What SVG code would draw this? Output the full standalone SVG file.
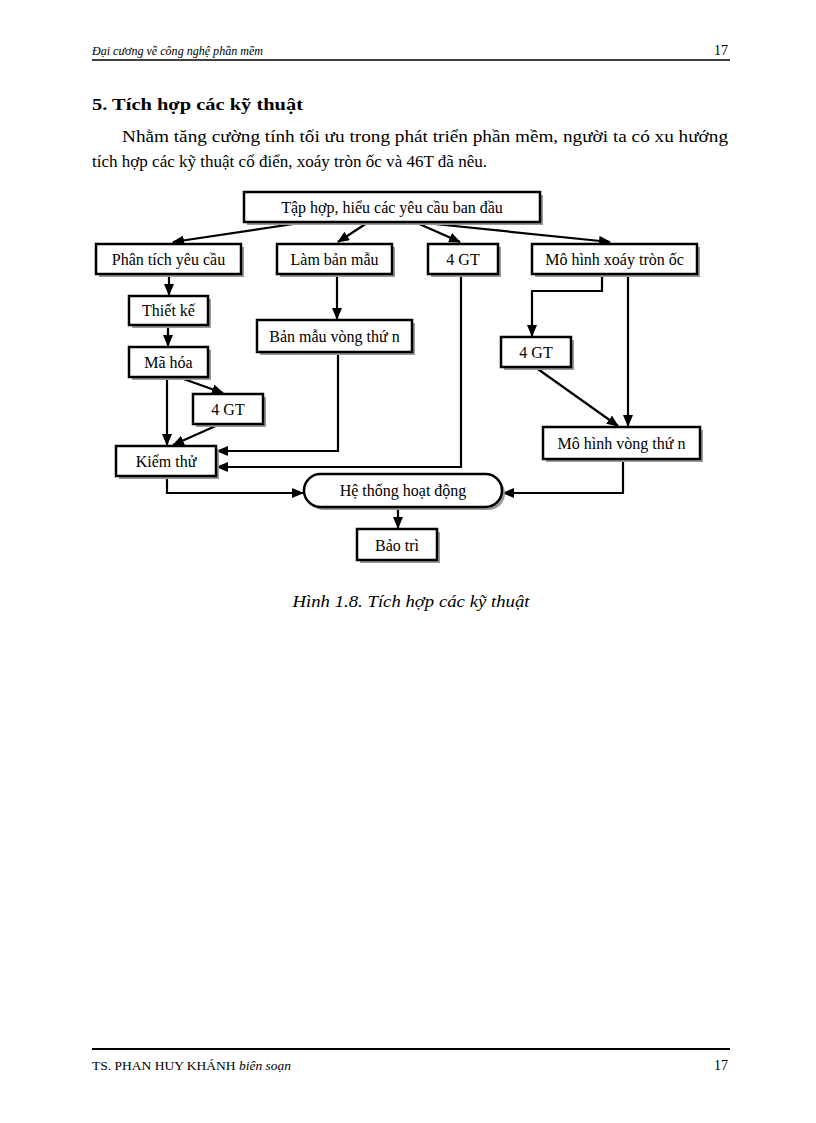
<svg xmlns="http://www.w3.org/2000/svg" width="816" height="1123" viewBox="0 0 816 1123">
<defs>
<style>
.bx{fill:#fff;stroke:#000;stroke-width:2.5}
.sh{fill:#999}
.t{font-family:"Liberation Serif","Times New Roman",serif;font-size:16px;fill:#000;text-anchor:middle}
.c{fill:none;stroke:#000;stroke-width:2.2}
.pg{font-family:"Liberation Serif","Times New Roman",serif;fill:#000}
</style>
<marker id="ah" markerUnits="userSpaceOnUse" markerWidth="12" markerHeight="10" refX="11" refY="5" orient="auto">
<path d="M0,0 L12,5 L0,10 Z" fill="#000"/>
</marker>
</defs>
<rect width="816" height="1123" fill="#fff"/>
<!-- header -->
<text class="pg" x="92" y="55" font-size="13.5" font-style="italic" textLength="171" lengthAdjust="spacingAndGlyphs">Đại cương về công nghệ phần mềm</text>
<text class="pg" x="728" y="55" font-size="14" text-anchor="end">17</text>
<line x1="92" y1="60" x2="730" y2="60" stroke="#000" stroke-width="1.6"/>
<!-- title and paragraph -->
<text class="pg" x="92" y="110" font-size="17" font-weight="bold" textLength="211" lengthAdjust="spacingAndGlyphs">5. Tích hợp các kỹ thuật</text>
<text class="pg" x="122" y="142" font-size="17" textLength="606" lengthAdjust="spacingAndGlyphs">Nhằm tăng cường tính tối ưu trong phát triển phần mềm, người ta có xu hướng</text>
<text class="pg" x="92" y="167" font-size="17" textLength="395" lengthAdjust="spacingAndGlyphs">tích hợp các kỹ thuật cổ điển, xoáy tròn ốc và 46T đã nêu.</text>
<!-- connectors -->
<g id="connectors">
<path class="c" d="M300,223 L173,242" marker-end="url(#ah)"/>
<path class="c" d="M367,223 L338,242" marker-end="url(#ah)"/>
<path class="c" d="M417,223 L460,242" marker-end="url(#ah)"/>
<path class="c" d="M425,223 L610,242" marker-end="url(#ah)"/>
<path class="c" d="M169,274 L169,295" marker-end="url(#ah)"/>
<path class="c" d="M168,325 L168,346" marker-end="url(#ah)"/>
<path class="c" d="M337,274 L337,319" marker-end="url(#ah)"/>
<path class="c" d="M338,352 L338,451 L217,451" marker-end="url(#ah)"/>
<path class="c" d="M461,274 L461,467 L217,467" marker-end="url(#ah)"/>
<path class="c" d="M167,377 L167,445" marker-end="url(#ah)"/>
<path class="c" d="M178,377 L223,393" marker-end="url(#ah)"/>
<path class="c" d="M220,424 L173,445" marker-end="url(#ah)"/>
<path class="c" d="M167,476 L167,493 L303,493" marker-end="url(#ah)"/>
<path class="c" d="M398,507 L398,528" marker-end="url(#ah)"/>
<path class="c" d="M602,274 L602,291 L532,291 L532,336" marker-end="url(#ah)"/>
<path class="c" d="M628,274 L628,426" marker-end="url(#ah)"/>
<path class="c" d="M535,367 L618,426" marker-end="url(#ah)"/>
<path class="c" d="M623,459 L623,493 L503,493" marker-end="url(#ah)"/>
</g>
<!-- nodes -->
<g id="n-taphop"><rect class="sh" x="247" y="195" width="296" height="30"/><rect class="bx" x="244" y="192" width="296" height="30"/><text class="t" x="392" y="212.5">Tập hợp, hiểu các yêu cầu ban đầu</text></g>
<g id="n-phantich"><rect class="sh" x="99" y="247" width="145" height="30"/><rect class="bx" x="96" y="244" width="145" height="30"/><text class="t" x="168.5" y="264.5">Phân tích yêu cầu</text></g>
<g id="n-lambanmau"><rect class="sh" x="280" y="247" width="115" height="30"/><rect class="bx" x="277" y="244" width="115" height="30"/><text class="t" x="334.5" y="264.5">Làm bản mẫu</text></g>
<g id="n-4gt-top"><rect class="sh" x="431" y="247" width="70" height="30"/><rect class="bx" x="428" y="244" width="70" height="30"/><text class="t" x="463" y="264.5">4 GT</text></g>
<g id="n-xoay"><rect class="sh" x="535" y="247" width="165" height="30"/><rect class="bx" x="532" y="244" width="165" height="30"/><text class="t" x="614.5" y="264.5">Mô hình xoáy tròn ốc</text></g>
<g id="n-thietke"><rect class="sh" x="132" y="299" width="79" height="29"/><rect class="bx" x="129" y="296" width="79" height="29"/><text class="t" x="168.5" y="316">Thiết kế</text></g>
<g id="n-mahoa"><rect class="sh" x="132" y="350" width="79" height="30"/><rect class="bx" x="129" y="347" width="79" height="30"/><text class="t" x="168.5" y="367.5">Mã hóa</text></g>
<g id="n-banmau-n"><rect class="sh" x="260" y="323" width="155" height="32"/><rect class="bx" x="257" y="320" width="155" height="32"/><text class="t" x="334.5" y="341.5">Bản mẫu vòng thứ n</text></g>
<g id="n-4gt-right"><rect class="sh" x="504" y="340" width="70" height="30"/><rect class="bx" x="501" y="337" width="70" height="30"/><text class="t" x="536" y="357.5">4 GT</text></g>
<g id="n-4gt-left"><rect class="sh" x="196" y="397" width="70" height="30"/><rect class="bx" x="193" y="394" width="70" height="30"/><text class="t" x="228" y="414.5">4 GT</text></g>
<g id="n-kiemthu"><rect class="sh" x="119" y="449" width="100" height="30"/><rect class="bx" x="116" y="446" width="100" height="30"/><text class="t" x="166" y="466.5">Kiểm thử</text></g>
<g id="n-vong-n"><rect class="sh" x="546" y="430" width="157" height="32"/><rect class="bx" x="543" y="427" width="157" height="32"/><text class="t" x="621.5" y="448.5">Mô hình vòng thứ n</text></g>
<g id="n-hethong"><rect class="sh" x="307" y="477" width="198" height="33" rx="16.5"/><rect class="bx" x="304" y="474" width="198" height="33" rx="16.5"/><text class="t" x="403" y="496">Hệ thống hoạt động</text></g>
<g id="n-baotri"><rect class="sh" x="360" y="532" width="80" height="31"/><rect class="bx" x="357" y="529" width="80" height="31"/><text class="t" x="397" y="550.5">Bảo trì</text></g>
<!-- caption -->
<text class="pg" x="411" y="607" font-size="16.5" font-style="italic" text-anchor="middle" textLength="237" lengthAdjust="spacingAndGlyphs">Hình 1.8. Tích hợp các kỹ thuật</text>
<!-- footer -->
<line x1="92" y1="1049" x2="730" y2="1049" stroke="#000" stroke-width="1.8"/>
<text class="pg" x="92" y="1070" font-size="13.5">TS. PHAN HUY KHÁNH <tspan font-style="italic">biên soạn</tspan></text>
<text class="pg" x="728" y="1070" font-size="14" text-anchor="end">17</text>
</svg>
